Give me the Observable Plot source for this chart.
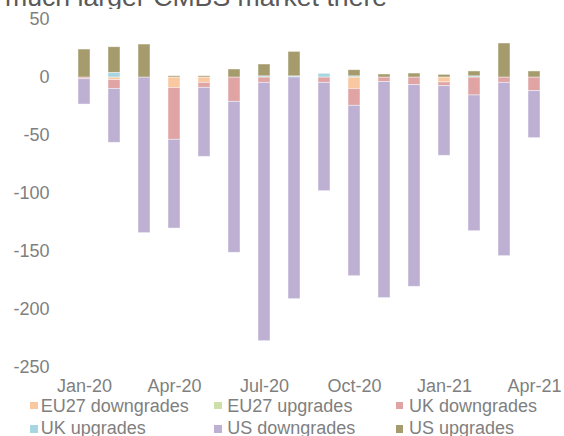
<!DOCTYPE html>
<html>
<head>
<meta charset="utf-8">
<script src="https://cdn.jsdelivr.net/npm/d3@7"></script>
<script src="https://cdn.jsdelivr.net/npm/@observablehq/plot@0.6"></script>
<style>
  html, body { margin: 0; padding: 0; background: #fff; }
  body { width: 564px; height: 436px; overflow: hidden; font-family: 'Liberation Sans', Arial, sans-serif; }
  #title { height: 9px; overflow: hidden; position: relative; }
  #title div { position: absolute; left: 5px; top: -16.2px; font-size: 26.67px; line-height: 26.67px; color: #595959; white-space: nowrap; }
  #legend { position: relative; height: 40px; }
  #legend .sw { position: absolute; width: 7.6px; height: 7.6px; }
  #legend .tx { position: absolute; font-size: 18px; line-height: 18px; color: #7f7f7f; white-space: nowrap; }
</style>
</head>
<body>
<div id="title"><div>much larger CMBS market there</div></div>
<div id="chart"></div>
<div id="legend"></div>
<script>
const months = ["Jan-20","Feb-20","Mar-20","Apr-20","May-20","Jun-20","Jul-20","Aug-20","Sep-20","Oct-20","Nov-20","Dec-20","Jan-21","Feb-21","Mar-21","Apr-21"];
const tickMonths = ["Jan-20","Apr-20","Jul-20","Oct-20","Jan-21","Apr-21"];
const yTicks = [-250, -200, -150, -100, -50, 0, 50];

const seriesNames = ["EU27 downgrades","EU27 upgrades","UK downgrades","UK upgrades","US downgrades","US upgrades"];
const seriesColors = ["#FAC8A0","#CDDFAB","#E0A4A4","#A7D6E1","#BDB0D3","#A59B6D"];

const eu27Down = [0, -2.3, 0, -9, -4.6, 0, 0, 0, 0, -9.8, 0, 0, -4.3, 0, 0, 0];
const eu27Up   = [0, 0, 0, 0, 0, 0, 0, 0, 0, 0, 0, 0, 0, 0, 0, 0];
const ukDown   = [-1.5, -7.5, 0, -44.7, -4.3, -21, -4.6, 0, -4.6, -14.6, -4, -6.6, -3.2, -15.5, -4.6, -11.8];
const ukUp     = [0, 4, 0, 0, 0, 0, 1, 1, 3.2, 1, 0, 0, 0, 1, 0, 0];
const usDown   = [-21.8, -46.5, -134.2, -76.5, -59.5, -130.1, -222.7, -191.1, -93.4, -146.9, -186.2, -173.8, -60, -117, -149.4, -40.5];
const usUp     = [24.1, 22.1, 28.4, 1.1, 1.1, 6.9, 10.2, 21.1, 0, 5.3, 2.6, 3.4, 2.3, 4.2, 29.3, 5.2];

const seriesValues = [eu27Down, eu27Up, ukDown, ukUp, usDown, usUp];

const data = [];
seriesNames.forEach((s, si) => {
  months.forEach((m, mi) => {
    const v = seriesValues[si][mi];
    if (v !== 0) data.push({month: m, series: s, value: v});
  });
});

const chart = Plot.plot({
  width: 564,
  height: 387,
  marginLeft: 52,
  marginRight: 0,
  marginTop: 0,
  marginBottom: 17,
  style: {fontFamily: "'Liberation Sans', Arial, sans-serif", fontSize: "18px", background: "white", overflow: "visible"},
  x: {type: "band", domain: months, range: [75.7, 541.3], paddingInner: 0.603, paddingOuter: 0},
  y: {domain: [-250, 50], range: [358, 10]},
  color: {domain: seriesNames, range: seriesColors},
  marks: [
    Plot.barY(data, {x: "month", y: "value", fill: "series", stroke: "white", strokeOpacity: 0.55, strokeWidth: 0.8}),
    Plot.axisX({ticks: tickMonths, tickSize: 0, tickPadding: 0, label: null, color: "#7f7f7f"}),
    Plot.axisY({ticks: yTicks, tickSize: 0, tickPadding: 3, label: null, color: "#7f7f7f", tickFormat: d => String(d)})
  ]
});
document.getElementById("chart").appendChild(chart);

// legend (3 columns x 2 rows)
const legend = document.getElementById("legend");
const colSw = [30, 214, 395.7];
const colTx = [40.7, 227.3, 409];
const rowSw = [5.7, 29];
const rowTx = [1.1, 23.1];
seriesNames.forEach((s, i) => {
  const c = i % 3, r = Math.floor(i / 3);
  const sw = document.createElement("div");
  sw.className = "sw";
  sw.style.left = colSw[c] + "px";
  sw.style.top = rowSw[r] + "px";
  sw.style.background = seriesColors[i];
  legend.appendChild(sw);
  const tx = document.createElement("div");
  tx.className = "tx";
  tx.style.left = colTx[c] + "px";
  tx.style.top = rowTx[r] + "px";
  tx.textContent = s;
  legend.appendChild(tx);
});
</script>
</body>
</html>
